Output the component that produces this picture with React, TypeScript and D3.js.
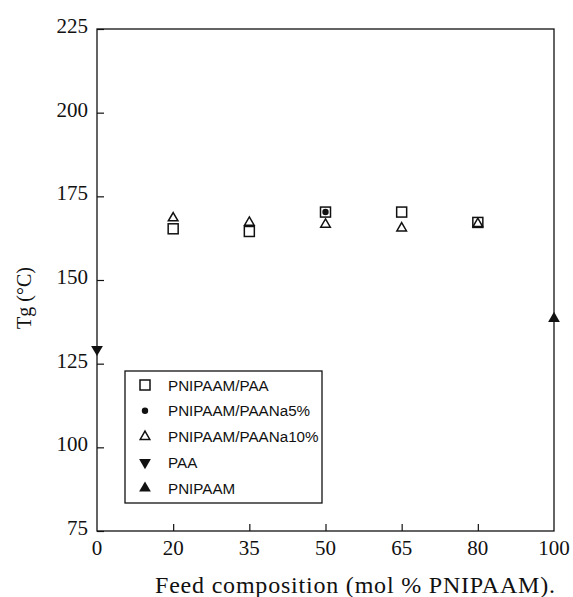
import React, { useEffect, useRef } from 'react';
import * as d3 from 'd3';

// feed composition categories (mol % PNIPAAM)
const feed = ['0', '20', '35', '50', '65', '80', '100'];
const yTicks = [75, 100, 125, 150, 175, 200, 225];

const paaX = ['20', '35', '50', '65', '80'];
const paaY = [165.3, 164.5, 170.3, 170.3, 167.2];
const na5X = ['50'];
const na5Y = [170.3];
const na10X = ['20', '35', '50', '65', '80'];
const na10Y = [168.5, 167.2, 166.6, 165.5, 166.8];
const homoPaaX = ['0'];
const homoPaaY = [129.3];
const homoNipX = ['100'];
const homoNipY = [138.5];

const legendLabels = ['PNIPAAM/PAA', 'PNIPAAM/PAANa5%', 'PNIPAAM/PAANa10%', 'PAA', 'PNIPAAM'];

function App() {
  const svgRef = useRef<SVGSVGElement>(null);

  useEffect(() => {
    const svg = d3.select(svgRef.current);
    svg.selectAll('*').remove();

    const left = 97, right = 554, top = 29, bottom = 531;
    const x = d3.scalePoint().domain(feed).range([left, right]);
    const y = d3.scaleLinear().domain([75, 225]).range([bottom, top]);

    const serif = 'Liberation Serif, Times New Roman, serif';
    const sans = 'Liberation Sans, Arial, sans-serif';

    // frame
    svg.append('rect')
      .attr('x', left).attr('y', top)
      .attr('width', right - left).attr('height', bottom - top)
      .attr('fill', 'none').attr('stroke', '#111').attr('stroke-width', 1.3);

    // y axis ticks (inward)
    const yAxis = svg.append('g').attr('transform', `translate(${left},0)`)
      .call(d3.axisRight(y).tickValues(yTicks).tickSize(7).tickFormat(() => ''));
    yAxis.select('.domain').remove();
    yAxis.selectAll('line').attr('stroke', '#111').attr('stroke-width', 1.2);

    svg.append('g').selectAll('text').data(yTicks).enter().append('text')
      .attr('x', 88).attr('y', (d) => y(d) + 4)
      .attr('text-anchor', 'end')
      .attr('font-family', serif).attr('font-size', 21).attr('fill', '#111')
      .text((d) => d);

    // x axis ticks (inward)
    const xAxis = svg.append('g').attr('transform', `translate(0,${bottom})`)
      .call(d3.axisTop(x).tickValues(feed.slice(1, -1)).tickSize(7).tickFormat(() => ''));
    xAxis.select('.domain').remove();
    xAxis.selectAll('line').attr('stroke', '#111').attr('stroke-width', 1.2);

    svg.append('g').selectAll('text').data(feed).enter().append('text')
      .attr('x', (d) => x(d)!).attr('y', 555)
      .attr('text-anchor', 'middle')
      .attr('font-family', serif).attr('font-size', 21).attr('fill', '#111')
      .text((d) => d);

    // axis titles
    svg.append('text')
      .attr('x', 355).attr('y', 593)
      .attr('text-anchor', 'middle')
      .attr('font-family', serif).attr('font-size', 24).attr('fill', '#111')
      .attr('textLength', 400)
      .text('Feed composition (mol % PNIPAAM).');

    svg.append('text')
      .attr('transform', `translate(31,298) rotate(-90)`)
      .attr('text-anchor', 'middle')
      .attr('font-family', serif).attr('font-size', 20).attr('fill', '#111')
      .text('Tg (°C)');

    const triUp = d3.symbol().type(d3.symbolTriangle).size(40);
    const triUpBig = d3.symbol().type(d3.symbolTriangle).size(60);

    const drawSquare = (g, cx, cy) => {
      g.append('rect')
        .attr('x', cx - 5).attr('y', cy - 5).attr('width', 10).attr('height', 10)
        .attr('fill', 'none').attr('stroke', '#111').attr('stroke-width', 1.5);
    };
    const drawDot = (g, cx, cy) => {
      g.append('circle').attr('cx', cx).attr('cy', cy).attr('r', 3.2).attr('fill', '#111');
    };
    const drawTri = (g, cx, cy) => {
      g.append('path').attr('d', triUp()).attr('transform', `translate(${cx},${cy})`)
        .attr('fill', 'none').attr('stroke', '#111').attr('stroke-width', 1.5);
    };
    const drawDown = (g, cx, cy) => {
      g.append('path').attr('d', triUpBig()).attr('transform', `translate(${cx},${cy}) rotate(180)`)
        .attr('fill', '#111');
    };
    const drawUp = (g, cx, cy) => {
      g.append('path').attr('d', triUpBig()).attr('transform', `translate(${cx},${cy})`)
        .attr('fill', '#111');
    };

    const pts = svg.append('g');
    paaX.forEach((c, i) => drawSquare(pts, x(c)!, y(paaY[i])));
    na5X.forEach((c, i) => drawDot(pts, x(c)!, y(na5Y[i])));
    na10X.forEach((c, i) => drawTri(pts, x(c)!, y(na10Y[i])));
    homoPaaX.forEach((c, i) => drawDown(pts, x(c)!, y(homoPaaY[i])));
    homoNipX.forEach((c, i) => drawUp(pts, x(c)!, y(homoNipY[i])));

    // legend
    const lg = svg.append('g');
    lg.append('rect')
      .attr('x', 125).attr('y', 371).attr('width', 197).attr('height', 132)
      .attr('fill', '#fff').attr('stroke', '#111').attr('stroke-width', 1.3);
    const drawers = [drawSquare, drawDot, drawTri, drawDown, drawUp];
    legendLabels.forEach((label, i) => {
      const ly = 385 + i * 25.8;
      drawers[i](lg, 145, ly);
      lg.append('text')
        .attr('x', 168).attr('y', ly + 5.5)
        .attr('font-family', sans).attr('font-size', 15.2).attr('fill', '#111')
        .text(label);
    });
  }, []);

  return (
    <svg ref={svgRef} width={573} height={597}
      style={{ position: 'absolute', left: 0, top: 0, background: '#fff' }} />
  );
}

export default App;
